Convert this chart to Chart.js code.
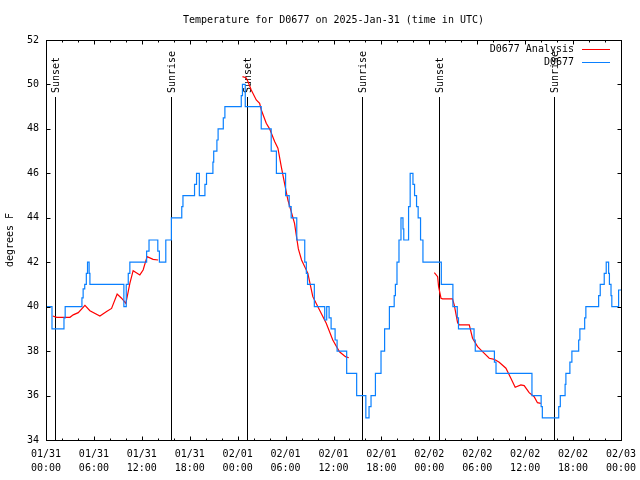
<!DOCTYPE html>
<html><head><meta charset="utf-8">
<script src="https://cdn.jsdelivr.net/npm/chart.js@4/dist/chart.umd.min.js"></script>
<style>html,body{margin:0;padding:0;background:#fff}#wrap{width:640px;height:480px}</style>
</head><body><div id="wrap"><canvas id="c" width="640" height="480"></canvas></div>
<script>
// ---- data ----
const titleText = 'Temperature for D0677 on 2025-Jan-31 (time in UTC)';
const yAxisTitle = 'degrees F';
const xTickHours = [0, 6, 12, 18, 24, 30, 36, 42, 48, 54, 60, 66, 72];
const xTickDates = ['01/31','01/31','01/31','01/31','02/01','02/01','02/01','02/01','02/02','02/02','02/02','02/02','02/03'];
const xTickTimes = ['00:00','06:00','12:00','18:00','00:00','06:00','12:00','18:00','00:00','06:00','12:00','18:00','00:00'];
const yTickValues = [34, 36, 38, 40, 42, 44, 46, 48, 50, 52];
const sunHours = [1.125, 15.625, 25.125, 39.6, 49.2, 63.6];
const sunLabels = ['Sunset', 'Sunrise', 'Sunset', 'Sunrise', 'Sunset', 'Sunrise'];

// observed D0677 (hours since 01/31 00:00 UTC, deg F)
const obsHours = [0, 0.75, 2.25, 2.4, 4.5, 4.65, 4.85, 5.05, 5.2, 5.4, 5.5, 9.75, 10.05, 10.3, 10.5, 12.6, 12.9, 14.0, 14.2, 15.0, 15.7, 17.0, 17.15, 18.6, 18.85, 19.2, 19.9, 20.1, 20.9, 21.0, 21.4, 21.55, 22.2, 22.4, 24.45, 24.6, 24.95, 26.95, 28.2, 28.85, 30.0, 30.45, 30.7, 31.4, 32.4, 32.6, 32.75, 33.6, 34.9, 35.15, 35.45, 35.7, 36.2, 36.45, 37.65, 38.9, 40.05, 40.45, 40.7, 41.25, 41.95, 42.4, 43.0, 43.6, 43.75, 43.95, 44.2, 44.45, 44.7, 44.8, 45.4, 45.6, 45.95, 46.15, 46.4, 46.6, 46.9, 47.2, 49.5, 50.95, 51.5, 51.65, 53.6, 53.75, 56.15, 56.35, 60.85, 62.0, 62.15, 64.2, 64.4, 65.0, 65.1, 65.6, 65.85, 66.7, 66.85, 67.45, 67.6, 69.2, 69.4, 69.9, 70.15, 70.45, 70.55, 70.75, 70.85, 71.7, 72];
const obsTemps = [40, 39, 39.5, 40, 40.4, 40.8, 41, 41.5, 42, 41.5, 41, 40, 41, 41.5, 42, 42.5, 43, 42.5, 42, 43, 44, 44.5, 45, 45.5, 46, 45, 45.5, 46, 46.5, 47, 47.5, 48, 48.5, 49, 49.5, 50, 49, 48, 47, 46, 45, 44.5, 44, 43, 42, 41.5, 41, 40, 39.4, 40, 39.5, 39, 38.5, 38, 37, 36, 35, 35.5, 36, 37, 38, 39, 40, 40.5, 41, 42, 43, 44, 43.5, 43, 44.5, 46, 45.5, 45, 44.5, 44, 43, 42, 41, 40, 39.5, 39, 38.5, 38, 37.5, 37, 36, 35.5, 35, 35.5, 36, 36.5, 37, 37.5, 38, 38.5, 39, 39.5, 40, 40.5, 41, 41.5, 42, 41.5, 41, 40.5, 40, 40.75, 40.75];

// D0677 Analysis (null = gap between analysis periods)
const anaHours = [0.84, 1.34, 3.0, 3.41, 4.04, 4.875, 5.5, 6.75, 7.59, 8.21, 8.91, 9.46, 10.0, 10.5, 10.91, 11.75, 12.16, 12.66, 13.41, 14.04,
  19.0,
  24.6, 25.05, 25.3, 25.7, 26.33, 26.75, 26.96, 27.58, 28.0, 28.63, 29.04, 29.46, 29.87, 30.29, 30.71, 31.12, 31.6, 32.0, 32.79, 33.41, 34.25, 35.09, 35.91, 36.75, 37.5, 37.91,
  43.0,
  48.625, 49.04, 49.16, 49.46, 49.66, 50.9, 51.125, 51.54, 51.75, 53.0, 53.41, 54.04, 54.66, 55.5, 56.125, 56.75, 57.59, 58.21, 58.75, 59.46, 59.875, 60.5, 61.125, 61.54, 61.96];
const anaTemps = [39.58, 39.52, 39.52, 39.63, 39.73, 40.06, 39.82, 39.58, 39.78, 39.92, 40.57, 40.38, 40.15, 41.05, 41.62, 41.43, 41.65, 42.25, 42.13, 42.1,
  null,
  50.35, 50.3, 50.12, 49.75, 49.3, 49.15, 48.85, 48.25, 48.0, 47.43, 47.13, 46.3, 45.55, 44.8, 44.28, 43.75, 42.6, 42.1, 41.5, 40.45, 39.85, 39.25, 38.5, 37.97, 37.75, 37.7,
  null,
  41.53, 41.35, 40.9, 40.38, 40.35, 40.35, 40.07, 39.28, 39.18, 39.18, 38.58, 38.2, 37.98, 37.68, 37.63, 37.5, 37.23, 36.78, 36.37, 36.48, 36.45, 36.13, 35.95, 35.68, 35.65];

const FONT = 'DejaVu Sans Mono';
Chart.defaults.font.family = FONT;
Chart.defaults.font.size = 10;
Chart.defaults.color = '#000';

const decor = {
  id: 'decor',
  beforeDatasetsDraw(chart) {
    const ctx = chart.ctx, xs = chart.scales.x, a = chart.chartArea;
    ctx.save();
    ctx.strokeStyle = '#000'; ctx.lineWidth = 1;
    ctx.font = '10px ' + FONT; ctx.fillStyle = '#000';
    sunHours.forEach((h, i) => {
      const px = Math.round(xs.getPixelForValue(h)) + 0.5;
      ctx.beginPath(); ctx.moveTo(px, a.top + 57); ctx.lineTo(px, a.bottom); ctx.stroke();
      ctx.save();
      ctx.translate(px + 1, a.top + 53);
      ctx.rotate(-Math.PI / 2);
      ctx.textAlign = 'left'; ctx.textBaseline = 'middle';
      ctx.fillText(sunLabels[i], 0, 0);
      ctx.restore();
    });
    ctx.restore();
  },
  afterDatasetsDraw(chart) {
    const ctx = chart.ctx, xs = chart.scales.x, ys = chart.scales.y, a = chart.chartArea;
    ctx.save();
    ctx.strokeStyle = '#000'; ctx.lineWidth = 1;
    const L = Math.round(a.left) + 0.5, R = Math.round(a.right) + 0.5, T = Math.round(a.top) + 0.5, B = Math.round(a.bottom) + 0.5;
    ctx.beginPath();
    // x ticks: major every 6 h, minor every 2 h, mirrored on top
    for (let h = 0; h <= 72; h += 2) {
      const px = Math.round(xs.getPixelForValue(h)) + 0.5;
      const len = (h % 6 === 0) ? 4 : 2;
      ctx.moveTo(px, B); ctx.lineTo(px, B - len);
      ctx.moveTo(px, T); ctx.lineTo(px, T + len);
    }
    yTickValues.forEach(v => {
      const py = Math.round(ys.getPixelForValue(v)) + 0.5;
      ctx.moveTo(L, py); ctx.lineTo(L + 4, py);
      ctx.moveTo(R, py); ctx.lineTo(R - 4, py);
    });
    ctx.stroke();
    ctx.strokeRect(L, T, R - L, B - T);
    // title
    ctx.fillStyle = '#000';
    ctx.font = '10px ' + FONT;
    ctx.textAlign = 'center'; ctx.textBaseline = 'middle';
    ctx.fillText(titleText, (a.left + a.right) / 2, 20);
    // y axis title
    ctx.save();
    ctx.translate(10, (a.top + a.bottom) / 2);
    ctx.rotate(-Math.PI / 2);
    ctx.fillText(yAxisTitle, 0, 0);
    ctx.restore();
    // legend (gnuplot style: right-aligned text, sample line after)
    chart.data.datasets.forEach((ds, i) => {
      const y = 49.5 + i * 13;
      ctx.textAlign = 'right';
      ctx.fillText(ds.label, 574, y);
      ctx.strokeStyle = ds.borderColor; ctx.lineWidth = 1;
      ctx.beginPath(); ctx.moveTo(582, y); ctx.lineTo(610, y); ctx.stroke();
    });
    ctx.restore();
  }
};

new Chart(document.getElementById('c'), {
  type: 'line',
  data: {
    datasets: [
      {
        label: 'D0677 Analysis',
        data: anaHours.map((h, i) => ({ x: h, y: anaTemps[i] })),
        borderColor: '#ff0000', borderWidth: 1.2, pointRadius: 0, fill: false,
        spanGaps: false, tension: 0, order: 1
      },
      {
        label: 'D0677',
        data: obsHours.map((h, i) => ({ x: h, y: obsTemps[i] })),
        borderColor: '#0a80ff', borderWidth: 1.2, pointRadius: 0, fill: false,
        stepped: true, order: 0
      }
    ]
  },
  options: {
    responsive: false, animation: false, devicePixelRatio: 1,
    layout: { padding: { left: 0, top: 40, right: 19, bottom: 0 } },
    plugins: { legend: { display: false }, title: { display: false }, tooltip: { enabled: false } },
    scales: {
      x: {
        type: 'linear', min: 0, max: 72,
        afterFit: s => { s.height = 40; s.paddingLeft = 0; s.paddingRight = 0; },
        afterBuildTicks: s => { s.ticks = xTickHours.map(v => ({ value: v })); },
        grid: { display: false, drawTicks: false }, border: { display: false },
        ticks: {
          autoSkip: false, maxRotation: 0, padding: 8,
          font: { size: 10, lineHeight: 1.35 },
          callback: v => { const i = xTickHours.indexOf(v); return i >= 0 ? [xTickDates[i], xTickTimes[i]] : ''; }
        }
      },
      y: {
        min: 34, max: 52,
        afterFit: s => { s.width = 46; s.paddingTop = 0; s.paddingBottom = 0; },
        afterBuildTicks: s => { s.ticks = yTickValues.map(v => ({ value: v })); },
        grid: { display: false, drawTicks: false }, border: { display: false },
        ticks: { padding: 7, font: { size: 10 } }
      }
    }
  },
  plugins: [decor]
});
</script>
</body></html>
